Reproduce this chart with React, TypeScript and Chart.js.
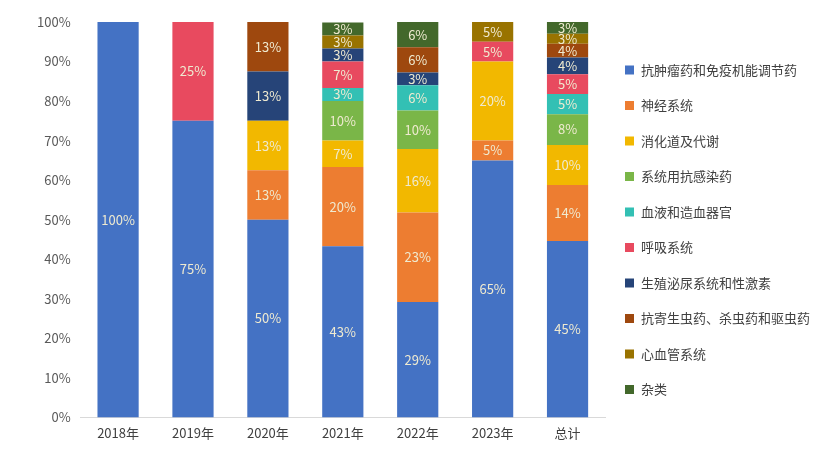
import React, { useEffect, useRef } from 'react';
import { Chart, registerables } from 'chart.js';

Chart.register(...registerables);

const categories = ['2018年', '2019年', '2020年', '2021年', '2022年', '2023年', '总计'];
const seriesNames = [
  '抗肿瘤药和免疫机能调节药',
  '神经系统',
  '消化道及代谢',
  '系统用抗感染药',
  '血液和造血器官',
  '呼吸系统',
  '生殖泌尿系统和性激素',
  '抗寄生虫药、杀虫药和驱虫药',
  '心血管系统',
  '杂类',
];
const antitumor = [100, 75, 50, 43.3, 29.2, 65, 44.6];
const nervous = [0, 0, 12.5, 20.0, 22.6, 5, 14.2];
const digestive = [0, 0, 12.5, 6.7, 16.1, 20, 10.1];
const antiInfective = [0, 0, 0, 10.0, 9.7, 0, 7.8];
const blood = [0, 0, 0, 3.3, 6.4, 0, 5.1];
const respiratory = [0, 25, 0, 6.7, 0, 5, 5.0];
const genitourinary = [0, 0, 12.5, 3.3, 3.2, 0, 4.2];
const antiparasitic = [0, 0, 12.5, 0, 6.4, 0, 3.5];
const cardiovascular = [0, 0, 0, 3.3, 0, 5, 2.5];
const misc = [0, 0, 0, 3.3, 6.4, 0, 3.0];
const yTicks = [0, 10, 20, 30, 40, 50, 60, 70, 80, 90, 100];

const seriesValues = [antitumor, nervous, digestive, antiInfective, blood, respiratory, genitourinary, antiparasitic, cardiovascular, misc];
const colors = ['#4472C4', '#ED7D31', '#F2B800', '#7AB648', '#33C0B4', '#E84A5F', '#264478', '#9E480E', '#997300', '#43682B'];

const FONT = '"Noto Sans CJK SC", "Noto Sans", sans-serif';

const labelPlugin = {
  id: 'barLabels',
  afterDatasetsDraw(chart: any) {
    const ctx = chart.ctx;
    ctx.save();
    ctx.font = `13px ${FONT}`;
    ctx.fillStyle = '#EFEAD0';
    ctx.textAlign = 'center';
    ctx.textBaseline = 'middle';
    chart.data.datasets.forEach((ds: any, di: number) => {
      const meta = chart.getDatasetMeta(di);
      meta.data.forEach((el: any, i: number) => {
        const v = ds.data[i];
        if (!v) return;
        const y = (el.y + el.base) / 2;
        ctx.fillText(Math.round(v) + '%', el.x, y);
      });
    });
    ctx.restore();
  },
};

const legendPlugin = {
  id: 'sideLegend',
  afterDraw(chart: any) {
    const ctx = chart.ctx;
    const left = chart.chartArea.right + 20;
    const top = 70;
    const step = 35.5;
    ctx.save();
    ctx.font = `13px ${FONT}`;
    ctx.textAlign = 'left';
    ctx.textBaseline = 'middle';
    chart.data.datasets.forEach((ds: any, i: number) => {
      const y = top + i * step;
      ctx.fillStyle = ds.backgroundColor;
      ctx.fillRect(left, y - 4.5, 9, 9);
      ctx.fillStyle = '#404040';
      ctx.fillText(ds.label, left + 16, y);
    });
    ctx.restore();
  },
};

export default function App() {
  const ref = useRef<HTMLCanvasElement>(null);
  useEffect(() => {
    if (!ref.current) return;
    const chart = new Chart(ref.current, {
      type: 'bar',
      data: {
        labels: categories,
        datasets: seriesNames.map((name, i) => ({
          label: name,
          data: seriesValues[i],
          backgroundColor: colors[i],
          borderWidth: 0,
          barPercentage: 0.55,
          categoryPercentage: 1,
        })),
      },
      options: {
        responsive: false,
        animation: false,
        layout: { padding: { left: 27, top: 22, bottom: 14, right: 230 } },
        plugins: {
          legend: { display: false },
          tooltip: { enabled: false },
        },
        scales: {
          x: {
            stacked: true,
            grid: { display: false, drawTicks: false },
            border: { color: '#D9D9D9' },
            ticks: { color: '#404040', font: { family: FONT, size: 13 }, padding: 8 },
          },
          y: {
            stacked: true,
            min: 0,
            max: 100,
            afterBuildTicks: (axis: any) => {
              axis.ticks = yTicks.map((v) => ({ value: v }));
            },
            grid: { display: false, drawTicks: false },
            border: { display: false },
            ticks: {
              color: '#595959',
              font: { family: FONT, size: 13 },
              padding: 10,
              callback: (v: any) => v + '%',
            },
          },
        },
      },
      plugins: [labelPlugin, legendPlugin],
    });
    return () => chart.destroy();
  }, []);
  return (
    <div style={{ position: 'absolute', left: 0, top: 0, width: 835, height: 463, background: '#fff' }}>
      <canvas ref={ref} width={835} height={463} style={{ width: 835, height: 463 }} />
    </div>
  );
}
